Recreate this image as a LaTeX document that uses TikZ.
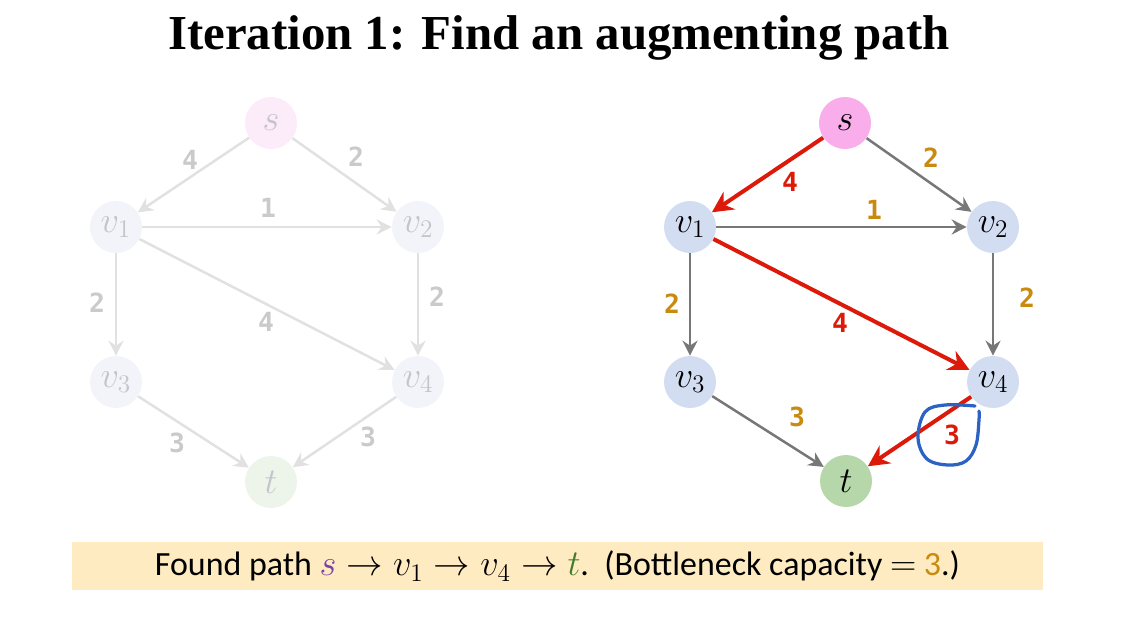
\documentclass[tikz,border=0pt]{standalone}
\usepackage{fontspec}
\setmainfont{Liberation Serif}
\newfontfamily\notefont{Carlito}
\newfontfamily\capfont{DejaVu Sans Mono}
\usetikzlibrary{arrows.meta}

\definecolor{spink}{HTML}{F9ADEB}
\definecolor{vblue}{HTML}{D2DDF2}
\definecolor{tgreen}{HTML}{B5D7A9}
\definecolor{edgegray}{HTML}{777777}
\definecolor{pathred}{HTML}{DD1A0A}
\definecolor{capgold}{HTML}{C98A10}
\definecolor{handblue}{HTML}{2B62C4}
\definecolor{notebg}{HTML}{FFEBC2}
\definecolor{spurple}{HTML}{7B3FA6}
\definecolor{tdark}{HTML}{3F7D2C}
% faded copy
\definecolor{fspink}{HTML}{FCEBF8}
\definecolor{fvblue}{HTML}{F2F4FA}
\definecolor{ftgreen}{HTML}{EDF5EA}
\definecolor{fedge}{HTML}{E1E1E1}
\definecolor{fcapcol}{HTML}{CACACA}
\definecolor{ftext}{HTML}{C4C4CC}

\tikzset{
  vert/.style={circle, minimum size=1.04cm, inner sep=0pt,
    font=\fontsize{22}{26}\selectfont},
  caplabel/.style={font=\capfont\bfseries\fontsize{15}{17}\selectfont, text=capgold},
  flow/.style={draw=edgegray, line width=0.05cm,
    -{Stealth[length=0.3cm, width=0.3cm, inset=0.1cm]}},
  aug/.style={draw=pathred, line width=0.08cm,
    -{Stealth[length=0.42cm, width=0.42cm, inset=0.14cm]}},
  faded/.style={draw=fedge, line width=0.05cm,
    -{Stealth[length=0.3cm, width=0.3cm, inset=0.1cm]}},
  fcaplabel/.style={caplabel, text=fcapcol}
}

\begin{document}
\begin{tikzpicture}[x=0.02cm, y=-0.02cm]
\useasboundingbox (0,0) rectangle (1124,622);

\node (title) at (559,38) {\fontsize{27.8}{32}\selectfont\bfseries Iteration 1: Find an augmenting path};

% left graph, faded
\node[vert, fill=fspink, text=ftext] (ls) at (271,123) {$s$};
\node[vert, fill=fvblue, text=ftext] (lv1) at (116,227) {$v_1$};
\node[vert, fill=fvblue, text=ftext] (lv2) at (418,227) {$v_2$};
\node[vert, fill=fvblue, text=ftext] (lv3) at (116,382) {$v_3$};
\node[vert, fill=fvblue, text=ftext] (lv4) at (418,382) {$v_4$};
\node[vert, fill=ftgreen, text=ftext] (lt) at (271,482) {$t$};

\draw[faded] (ls) -- (lv1);
\draw[faded] (ls) -- (lv2);
\draw[faded] (lv1) -- (lv2);
\draw[faded] (lv1) -- (lv3);
\draw[faded] (lv1) -- (lv4);
\draw[faded] (lv2) -- (lv4);
\draw[faded] (lv3) -- (lt);
\draw[faded] (lv4) -- (lt);

\node[fcaplabel] (lc1) at (190,160) {4};
\node[fcaplabel] (lc2) at (356,157) {2};
\node[fcaplabel] (lc3) at (268,208) {1};
\node[fcaplabel] (lc4) at (97,303) {2};
\node[fcaplabel] (lc5) at (266,322) {4};
\node[fcaplabel] (lc6) at (437,297) {2};
\node[fcaplabel] (lc7) at (177,443) {3};
\node[fcaplabel] (lc8) at (368,437) {3};

% right graph
\node[vert, fill=spink] (s) at (845,123) {$s$};
\node[vert, fill=vblue] (v1) at (690,227) {$v_1$};
\node[vert, fill=vblue] (v2) at (993,227) {$v_2$};
\node[vert, fill=vblue] (v3) at (690,382) {$v_3$};
\node[vert, fill=vblue] (v4) at (993,382) {$v_4$};
\node[vert, fill=tgreen] (t) at (846,481) {$t$};

\draw[flow] (s) -- (v2);
\draw[flow] (v1) -- (v2);
\draw[flow] (v1) -- (v3);
\draw[flow] (v2) -- (v4);
\draw[flow] (v3) -- (t);
\draw[aug] (s) -- (v1);
\draw[aug] (v1) -- (v4);
\draw[aug] (v4) -- (t);

\node[caplabel, text=pathred] (c1) at (790,182) {4};
\node[caplabel] (c2) at (931,158) {2};
\node[caplabel] (c3) at (874,210) {1};
\node[caplabel] (c4) at (672,304) {2};
\node[caplabel, text=pathred] (c5) at (840,323) {4};
\node[caplabel] (c6) at (1027,298) {2};
\node[caplabel] (c7) at (797,417) {3};
\node[caplabel, text=pathred] (c8) at (952,435) {3};

% hand drawn mark
\draw[handblue, line width=0.065cm, line cap=round]
  plot[smooth, tension=0.6] coordinates {(975,406) (945,405) (925,412) (918,438)
    (927,459) (948,465) (966,461) (976,445) (979,420) (979,411)};

\node[fill=notebg, minimum width=19.42cm, minimum height=0.97cm, inner sep=0pt,
  font=\notefont\fontsize{19.3}{23}\selectfont] (note) at (557.5,566)
  {Found path $\color{spurple}s\color{black}\rightarrow v_1\rightarrow v_4\rightarrow{\color{tdark}t}$.~~(Bottleneck capacity $=$ {\color{capgold}3}.)};
\end{tikzpicture}
\end{document}
